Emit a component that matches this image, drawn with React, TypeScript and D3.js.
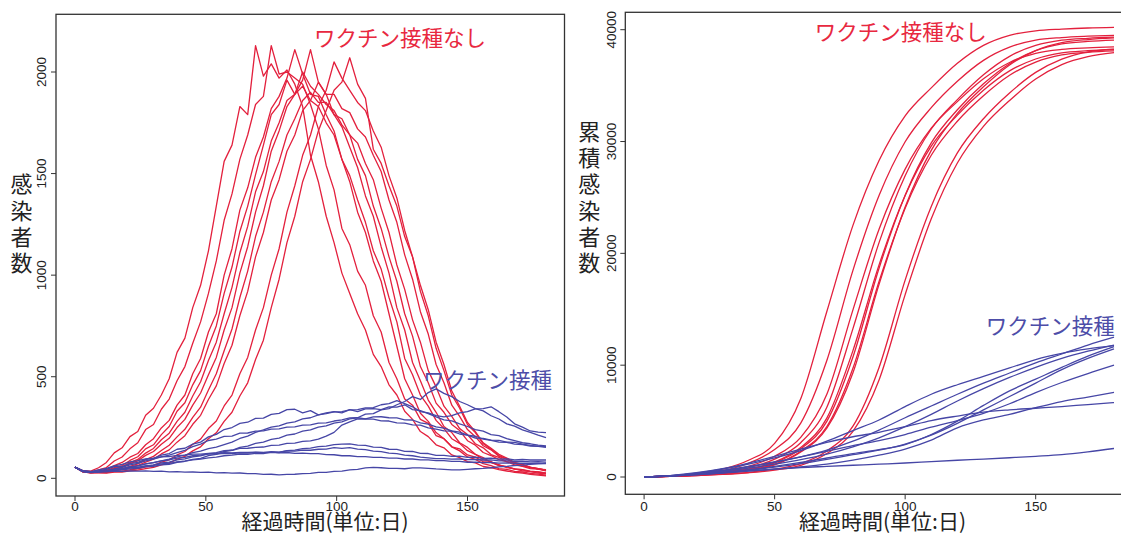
import React from 'react';
import * as d3 from 'd3';

// colours
const RED = '#e3203d';
const BLUE = '#4646a6';
const RED_TEXT = '#e8283f';
const BLUE_TEXT = '#4d4da8';

const JP_FONT = "'Noto Sans CJK JP', 'Noto Sans CJK SC', sans-serif";
const TICK_FONT = "'Liberation Sans', Arial, sans-serif";

// left panel: days 0..180 every 3 days
const daysActive = d3.range(0, 181, 3);
// right panel: days 0..180 every 10 days
const daysCumulative = d3.range(0, 181, 10);

// 感染者数 (ワクチン接種なし), 10 runs
const activeNoVax1 = [55, 38, 35, 52, 78, 125, 150, 205, 230, 310, 345, 410, 490, 620, 690, 840, 950, 1120, 1340, 1560, 1640, 1830, 1790, 2130, 1980, 2040, 1970, 2010, 1940, 1830, 1590, 1460, 1290, 1160, 1010, 910, 810, 730, 610, 550, 460, 410, 330, 290, 230, 205, 165, 150, 115, 102, 82, 76, 58, 52, 43, 36, 29, 26, 19, 16, 12];
const activeNoVax2 = [55, 36, 31, 42, 53, 85, 105, 145, 175, 240, 265, 340, 390, 480, 550, 665, 770, 910, 1070, 1270, 1400, 1570, 1690, 1840, 1880, 2130, 1990, 2000, 1970, 1940, 1840, 1720, 1540, 1420, 1230, 1150, 1020, 950, 800, 720, 570, 490, 390, 360, 290, 270, 210, 195, 155, 145, 115, 104, 82, 78, 62, 57, 45, 42, 33, 31, 24];
const activeNoVax3 = [55, 33, 30, 36, 44, 62, 78, 104, 122, 165, 195, 248, 285, 360, 410, 515, 590, 720, 810, 1000, 1130, 1320, 1430, 1580, 1680, 1820, 1880, 1970, 2110, 1990, 1890, 1880, 1790, 1710, 1570, 1460, 1310, 1210, 1070, 970, 810, 650, 490, 410, 320, 280, 225, 195, 155, 135, 105, 93, 72, 62, 48, 44, 34, 31, 24, 21, 15];
const activeNoVax4 = [55, 35, 30, 34, 39, 52, 63, 88, 106, 145, 165, 215, 255, 330, 372, 460, 530, 650, 750, 910, 1040, 1215, 1340, 1495, 1640, 1790, 1840, 1960, 1890, 1930, 1860, 1830, 1750, 1690, 1570, 1490, 1370, 1260, 1120, 1030, 890, 770, 590, 510, 410, 355, 285, 245, 195, 172, 136, 118, 92, 82, 63, 57, 46, 43, 35, 32, 27];
const activeNoVax5 = [55, 33, 28, 31, 35, 47, 56, 77, 93, 124, 147, 190, 222, 280, 325, 405, 475, 580, 670, 810, 940, 1110, 1240, 1410, 1510, 1660, 1750, 1860, 1890, 1960, 2110, 1950, 1890, 1790, 1730, 1630, 1530, 1390, 1290, 1140, 1010, 840, 730, 570, 480, 385, 325, 255, 225, 175, 152, 118, 102, 78, 67, 53, 46, 37, 33, 26, 22];
const activeNoVax6 = [55, 34, 30, 33, 37, 47, 55, 72, 86, 113, 132, 168, 197, 250, 290, 360, 420, 510, 595, 730, 840, 1010, 1140, 1310, 1440, 1610, 1710, 1830, 1890, 2000, 1930, 1890, 1840, 1810, 1740, 1690, 1570, 1490, 1340, 1230, 1090, 970, 810, 700, 550, 470, 370, 325, 265, 235, 185, 163, 127, 112, 92, 82, 66, 59, 48, 45, 37];
const activeNoVax7 = [55, 33, 29, 31, 33, 41, 47, 59, 71, 92, 108, 137, 163, 204, 241, 300, 350, 435, 515, 628, 735, 890, 1020, 1190, 1310, 1460, 1560, 1690, 1770, 1860, 1900, 1850, 1850, 1790, 1770, 1690, 1650, 1550, 1470, 1330, 1210, 1050, 930, 780, 670, 530, 450, 355, 305, 245, 215, 170, 150, 117, 103, 82, 74, 60, 55, 45, 42];
const activeNoVax8 = [55, 32, 28, 30, 31, 38, 43, 54, 63, 80, 94, 120, 140, 178, 210, 266, 310, 388, 455, 565, 655, 800, 920, 1090, 1210, 1370, 1470, 1610, 1690, 1810, 1860, 1950, 1890, 1890, 1820, 1800, 1720, 1680, 1590, 1510, 1370, 1260, 1100, 980, 820, 710, 560, 470, 360, 305, 240, 205, 160, 140, 108, 93, 73, 65, 52, 48, 40];
const activeNoVax9 = [55, 32, 27, 28, 28, 33, 35, 42, 46, 56, 64, 80, 91, 115, 132, 168, 193, 245, 282, 356, 410, 515, 595, 730, 840, 1000, 1130, 1310, 1440, 1590, 1690, 1830, 1910, 2050, 1970, 1910, 1850, 1810, 1710, 1630, 1490, 1380, 1220, 1090, 920, 800, 640, 530, 410, 345, 265, 225, 170, 143, 112, 97, 76, 67, 54, 48, 40];
const activeNoVax10 = [55, 32, 27, 27, 26, 30, 31, 37, 40, 48, 54, 66, 75, 94, 108, 135, 155, 195, 224, 280, 325, 405, 470, 585, 680, 840, 980, 1160, 1290, 1460, 1570, 1710, 1810, 1910, 1950, 2070, 1940, 1870, 1620, 1550, 1440, 1340, 1190, 1090, 950, 830, 670, 560, 430, 355, 275, 230, 175, 148, 118, 100, 78, 68, 54, 47, 38];

// 感染者数 (ワクチン接種), 9 runs
const activeVax1 = [55, 35, 31, 36, 44, 57, 58, 72, 78, 93, 98, 114, 122, 143, 148, 168, 178, 204, 216, 240, 250, 270, 276, 295, 296, 315, 320, 338, 340, 322, 333, 312, 322, 328, 322, 338, 328, 342, 343, 338, 352, 350, 362, 338, 333, 318, 302, 288, 283, 268, 255, 240, 232, 215, 210, 195, 185, 175, 170, 163, 160];
const activeVax2 = [55, 35, 30, 33, 34, 39, 41, 46, 49, 56, 59, 66, 69, 79, 84, 93, 98, 112, 118, 132, 138, 152, 158, 172, 178, 192, 198, 212, 218, 232, 238, 252, 258, 272, 278, 292, 298, 316, 318, 337, 343, 362, 378, 402, 388, 422, 440, 418, 402, 378, 362, 343, 332, 308, 292, 268, 257, 238, 226, 212, 200];
const activeVax3 = [55, 35, 30, 34, 37, 43, 47, 56, 61, 71, 77, 86, 94, 106, 114, 126, 134, 146, 154, 166, 178, 196, 208, 226, 238, 252, 258, 272, 278, 292, 298, 312, 318, 327, 328, 337, 338, 347, 348, 362, 368, 382, 368, 352, 328, 322, 308, 302, 308, 322, 328, 342, 343, 352, 328, 302, 268, 252, 233, 227, 225];
const activeVax4 = [55, 34, 30, 33, 37, 46, 54, 66, 74, 86, 94, 106, 114, 126, 138, 156, 168, 186, 193, 206, 208, 222, 223, 232, 233, 242, 243, 252, 253, 262, 263, 272, 273, 282, 288, 297, 298, 293, 302, 303, 298, 297, 288, 287, 273, 267, 253, 247, 233, 227, 213, 207, 193, 187, 178, 177, 168, 166, 158, 157, 152];
const activeVax5 = [55, 33, 30, 33, 35, 41, 44, 51, 54, 61, 66, 76, 80, 91, 96, 106, 110, 121, 126, 136, 138, 147, 148, 152, 154, 162, 163, 172, 173, 182, 184, 193, 208, 226, 262, 278, 292, 293, 291, 283, 282, 273, 272, 263, 262, 248, 242, 233, 232, 218, 212, 198, 197, 188, 187, 178, 177, 168, 162, 158, 156];
const activeVax6 = [55, 33, 28, 31, 34, 41, 44, 51, 54, 61, 64, 71, 74, 81, 84, 91, 94, 101, 104, 111, 114, 119, 118, 123, 121, 129, 127, 136, 139, 146, 149, 156, 158, 166, 168, 169, 163, 162, 153, 152, 143, 142, 133, 132, 123, 122, 113, 113, 108, 109, 103, 104, 98, 99, 94, 96, 91, 93, 90, 91, 90];
const activeVax7 = [55, 34, 30, 33, 35, 43, 47, 56, 61, 71, 77, 86, 91, 99, 103, 111, 114, 119, 119, 123, 122, 125, 124, 127, 126, 131, 129, 135, 134, 139, 138, 143, 144, 151, 147, 151, 144, 141, 134, 131, 124, 121, 114, 111, 104, 101, 97, 97, 94, 95, 92, 93, 90, 91, 86, 86, 84, 84, 81, 82, 80];
const activeVax8 = [55, 35, 33, 41, 49, 61, 69, 81, 87, 96, 99, 106, 107, 113, 114, 119, 119, 123, 123, 126, 125, 128, 127, 129, 127, 128, 125, 127, 123, 124, 121, 121, 117, 116, 111, 111, 107, 107, 103, 103, 99, 99, 95, 95, 91, 91, 87, 87, 83, 83, 79, 80, 77, 78, 75, 76, 74, 75, 73, 74, 72];
const activeVax9 = [55, 38, 34, 33, 32, 35, 34, 36, 35, 37, 34, 35, 32, 33, 30, 31, 29, 30, 27, 28, 25, 26, 23, 23, 19, 20, 17, 19, 20, 23, 24, 29, 29, 34, 35, 41, 44, 51, 54, 52, 49, 49, 47, 51, 51, 49, 46, 44, 41, 41, 44, 47, 49, 52, 56, 59, 63, 65, 69, 71, 74];

// 累積感染者数 (ワクチン接種なし)
const cumNoVax1 = [0, 100, 300, 700, 1500, 3000, 7000, 14800, 22500, 28300, 32300, 34800, 37000, 38600, 39500, 39900, 40050, 40150, 40200];
const cumNoVax2 = [0, 90, 260, 560, 1230, 2460, 4820, 10420, 18480, 25170, 29980, 33030, 35390, 37260, 38440, 39070, 39300, 39420, 39500];
const cumNoVax3 = [0, 80, 220, 480, 950, 1860, 3545, 7400, 14950, 22150, 27530, 31190, 33570, 35620, 37070, 37890, 38240, 38380, 38470];
const cumNoVax4 = [0, 75, 200, 430, 820, 1600, 3070, 6240, 13270, 20960, 26940, 31120, 33750, 35970, 37620, 38590, 39060, 39230, 39330];
const cumNoVax5 = [0, 70, 180, 380, 700, 1350, 2640, 5270, 11300, 18970, 25170, 29580, 32360, 34590, 36320, 37380, 37930, 38120, 38230];
const cumNoVax6 = [0, 70, 175, 370, 680, 1270, 2520, 4980, 10730, 18670, 25200, 29880, 32840, 35160, 36960, 38120, 38730, 38950, 39070];
const cumNoVax7 = [0, 65, 165, 340, 620, 1145, 2310, 4510, 9730, 17480, 24030, 28770, 31810, 34090, 35920, 37100, 37740, 37980, 38100];
const cumNoVax8 = [0, 65, 160, 330, 600, 1090, 2240, 4360, 9320, 17230, 24150, 29210, 32510, 34890, 36840, 38130, 38840, 39120, 39260];
const cumNoVax9 = [0, 55, 130, 250, 420, 700, 1200, 2325, 4545, 9800, 17610, 24200, 28980, 32040, 34340, 36180, 37370, 38020, 38260];
const cumNoVax10 = [0, 50, 120, 230, 380, 620, 1050, 2105, 4080, 8680, 16310, 23090, 28080, 31360, 33670, 35590, 36880, 37590, 37950];

// 累積感染者数 (ワクチン接種)
const cumVax1 = [0, 100, 250, 400, 550, 700, 850, 950, 1050, 1150, 1250, 1380, 1500, 1600, 1720, 1850, 2000, 2250, 2550];
const cumVax2 = [0, 120, 350, 700, 1150, 1700, 2350, 3200, 4150, 5100, 6300, 7400, 8250, 9000, 9750, 10500, 11050, 11450, 11740];
const cumVax3 = [0, 100, 280, 550, 900, 1300, 1800, 2400, 3200, 4200, 5300, 6350, 7400, 8400, 9300, 10200, 11000, 11800, 12500];
const cumVax4 = [0, 90, 230, 420, 650, 950, 1300, 1700, 2100, 2450, 2900, 3800, 5000, 6400, 7700, 8750, 9800, 10800, 11650];
const cumVax5 = [0, 80, 210, 380, 600, 880, 1200, 1580, 2000, 2400, 2950, 3750, 4800, 6000, 7200, 8400, 9600, 10600, 11450];
const cumVax6 = [0, 110, 300, 600, 950, 1350, 1800, 2300, 2800, 3250, 3800, 4450, 5050, 5700, 6550, 7550, 8450, 9250, 10000];
const cumVax7 = [0, 80, 200, 350, 520, 700, 900, 1150, 1500, 1950, 2500, 3300, 4400, 5100, 5600, 6200, 6750, 7150, 7570];
const cumVax8 = [0, 130, 380, 750, 1250, 1850, 2500, 3100, 3600, 4000, 4500, 5050, 5450, 5800, 6000, 6150, 6300, 6480, 6650];
const cumVax9 = [0, 100, 260, 500, 800, 1150, 1550, 2050, 2700, 3500, 4500, 5600, 6800, 7900, 8900, 9800, 10600, 11250, 11800];

const activeNoVax = [activeNoVax1, activeNoVax2, activeNoVax3, activeNoVax4, activeNoVax5, activeNoVax6, activeNoVax7, activeNoVax8, activeNoVax9, activeNoVax10];
const activeVax = [activeVax1, activeVax2, activeVax3, activeVax4, activeVax5, activeVax6, activeVax7, activeVax8, activeVax9];
const cumNoVax = [cumNoVax1, cumNoVax2, cumNoVax3, cumNoVax4, cumNoVax5, cumNoVax6, cumNoVax7, cumNoVax8, cumNoVax9, cumNoVax10];
const cumVax = [cumVax1, cumVax2, cumVax3, cumVax4, cumVax5, cumVax6, cumVax7, cumVax8, cumVax9];

const xTicks = [0, 50, 100, 150];
const activeTicks = [0, 500, 1000, 1500, 2000];
const cumulativeTicks = [0, 10000, 20000, 30000, 40000];

const xTitle = '経過時間(単位:日)';
const activeTitle = '感染者数';
const cumulativeTitle = '累積感染者数';
const labelNoVax = 'ワクチン接種なし';
const labelVax = 'ワクチン接種';

type Note = { text: string; x: number; y: number; color: string };

type PanelProps = {
  frame: { left: number; right: number; top: number; bottom: number };
  xRange: [number, number];
  yRange: [number, number];
  yMax: number;
  days: number[];
  red: number[][];
  blue: number[][];
  yTicks: number[];
  yLabelX: number;
  titleX: number;
  title: string;
  titleTop: number;
  xTitleX: number;
  curve: d3.CurveFactory;
  notes: Note[];
};

function Panel(p: PanelProps) {
  const x = d3.scaleLinear().domain([0, 180]).range(p.xRange);
  const y = d3.scaleLinear().domain([0, p.yMax]).range(p.yRange);
  const line = d3
    .line<number>()
    .x((_, i) => x(p.days[i]))
    .y((v) => y(v))
    .curve(p.curve);
  const f = p.frame;

  return (
    <g>
      {p.red.map((s, i) => (
        <path key={'r' + i} d={line(s) || ''} fill="none" stroke={RED} strokeWidth={1.3} strokeLinejoin="round" />
      ))}
      {p.blue.map((s, i) => (
        <path key={'b' + i} d={line(s) || ''} fill="none" stroke={BLUE} strokeWidth={1.3} strokeLinejoin="round" />
      ))}

      <rect x={f.left} y={f.top} width={f.right - f.left} height={f.bottom - f.top} fill="none" stroke="#333" strokeWidth={1.3} />

      {xTicks.map((t) => (
        <g key={'x' + t}>
          <line x1={x(t)} x2={x(t)} y1={f.bottom} y2={f.bottom + 5} stroke="#333" strokeWidth={1} />
          <text x={x(t)} y={511} textAnchor="middle" fontFamily={TICK_FONT} fontSize={13.5} fill="#222">
            {t}
          </text>
        </g>
      ))}
      {p.yTicks.map((t) => (
        <g key={'y' + t}>
          <line x1={f.left - 5} x2={f.left} y1={y(t)} y2={y(t)} stroke="#333" strokeWidth={1} />
          <text
            transform={`translate(${p.yLabelX},${y(t)}) rotate(-90)`}
            textAnchor="middle"
            dominantBaseline="central"
            fontFamily={TICK_FONT}
            fontSize={13.5}
            fill="#222"
          >
            {t}
          </text>
        </g>
      ))}

      <text x={p.xTitleX} y={528.5} textAnchor="middle" fontFamily={JP_FONT} fontSize={21} fill="#222">
        {xTitle}
      </text>
      <text
        x={p.titleX}
        y={p.titleTop}
        style={{ writingMode: 'vertical-rl' }}
        letterSpacing={4.3}
        fontFamily={JP_FONT}
        fontSize={22}
        fill="#222"
      >
        {p.title}
      </text>

      {p.notes.map((n) => (
        <text key={n.text + n.x} x={n.x} y={n.y} dominantBaseline="central" fontFamily={JP_FONT} fontSize={21.5} fill={n.color}>
          {n.text}
        </text>
      ))}
    </g>
  );
}

export default function App() {
  return (
    <svg
      width={1121}
      height={535}
      viewBox="0 0 1121 535"
      style={{ position: 'absolute', left: 0, top: 0, background: '#fff' }}
    >
      <rect width={1121} height={535} fill="#fff" />
      <Panel
        frame={{ left: 56, right: 564.5, top: 14.3, bottom: 496 }}
        xRange={[75, 546]}
        yRange={[478.3, 72]}
        yMax={2000}
        days={daysActive}
        red={activeNoVax}
        blue={activeVax}
        yTicks={activeTicks}
        yLabelX={41.7}
        titleX={21.4}
        title={activeTitle}
        titleTop={173}
        xTitleX={325}
        curve={d3.curveLinear}
        notes={[
          { text: labelNoVax, x: 314, y: 36, color: RED_TEXT },
          { text: labelVax, x: 423, y: 378.7, color: BLUE_TEXT },
        ]}
      />
      <Panel
        frame={{ left: 625.3, right: 1133, top: 12.3, bottom: 494.3 }}
        xRange={[644.1, 1114]}
        yRange={[477, 29.7]}
        yMax={40000}
        days={daysCumulative}
        red={cumNoVax}
        blue={cumVax}
        yTicks={cumulativeTicks}
        yLabelX={611.7}
        titleX={589.3}
        title={cumulativeTitle}
        titleTop={120.4}
        xTitleX={882.5}
        curve={d3.curveMonotoneX}
        notes={[
          { text: labelNoVax, x: 814.7, y: 30, color: RED_TEXT },
          { text: labelVax, x: 985.8, y: 324.8, color: BLUE_TEXT },
        ]}
      />
    </svg>
  );
}
